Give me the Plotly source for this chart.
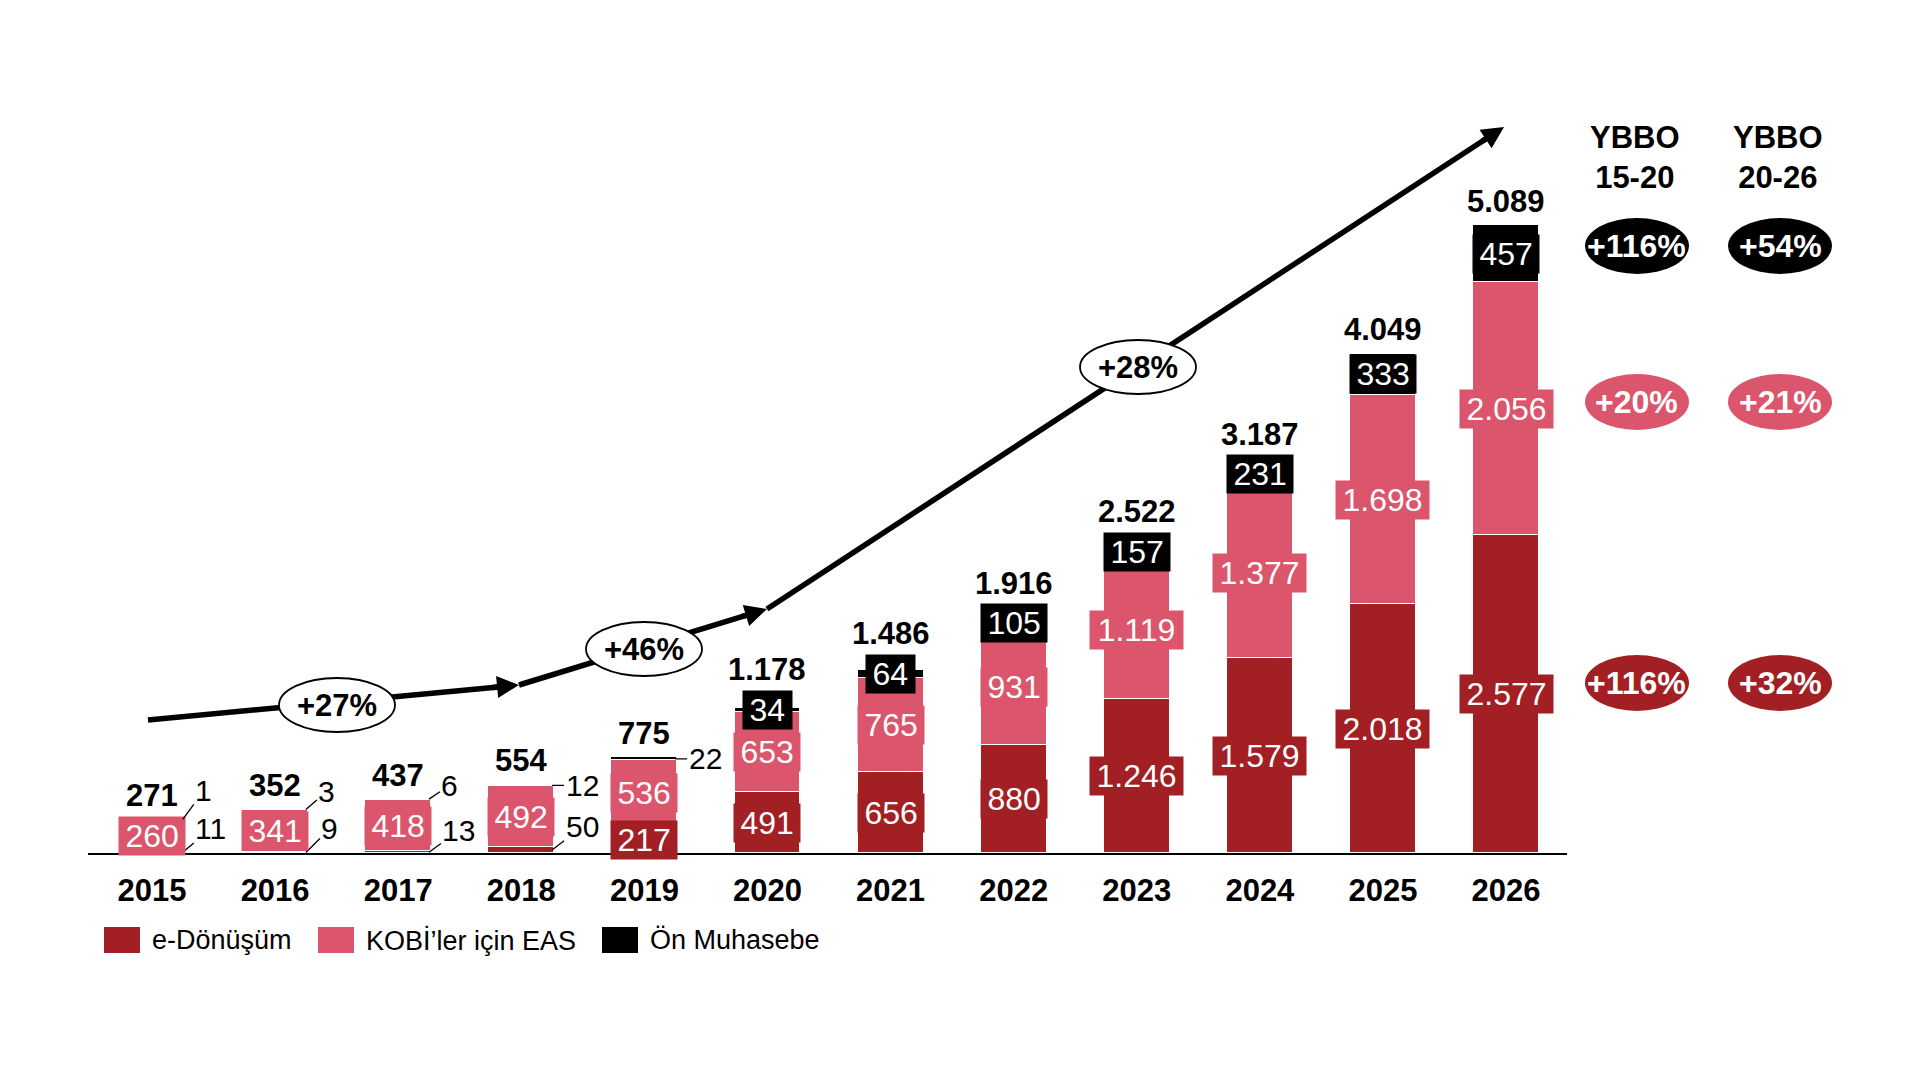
import plotly.graph_objects as go

# ---------------- data ----------------
years = ["2015", "2016", "2017", "2018", "2019", "2020",
         "2021", "2022", "2023", "2024", "2025", "2026"]
e_donusum = [11, 9, 13, 50, 217, 491, 656, 880, 1246, 1579, 2018, 2577]
kobi_eas = [260, 341, 418, 492, 536, 653, 765, 931, 1119, 1377, 1698, 2056]
on_muhasebe = [1, 3, 6, 12, 22, 34, 64, 105, 157, 231, 333, 457]
totals = [271, 352, 437, 554, 775, 1178, 1486, 1916, 2522, 3187, 4049, 5089]
series_names = ["e-Dönüşüm", "KOBİ’ler için EAS", "Ön Muhasebe"]
period_growth = ["+27%", "+46%", "+28%"]
cagr_headers = ["YBBO<br>15-20", "YBBO<br>20-26"]
cagr_on = ["+116%", "+54%"]
cagr_kobi = ["+20%", "+21%"]
cagr_edon = ["+116%", "+32%"]

# ---------------- style ----------------
DARK = "#A21F23"
PINK = "#DB556C"
BLACK = "#000000"
FONT = "Arial, 'Liberation Sans', sans-serif"

W, H = 1920, 1080
L, R, T, B = 88, 353, 60, 227
PW, PH = W - L - R, H - T - B
X_RANGE = [-0.52, 11.495]
PX_PER_UNIT = 0.1233
Y_MAX = PH / PX_PER_UNIT
BAR_W = 0.536
BOX_H = 38
LBL = 32


def pxx(px):
    return (px - L) / PW


def pxy(py):
    return (H - B - py) / PH


def fmt(v):
    return f"{v:,}".replace(",", ".")


def box_w(s, fs=LBL):
    d = sum(c.isdigit() for c in s)
    p = s.count(".")
    return d * 0.556 * fs + p * 0.278 * fs + 9


def paper_text(px, py, text, size, color, xanchor="center", bold=False):
    return dict(x=pxx(px), y=pxy(py), xref="paper", yref="paper",
                text=f"<b>{text}</b>" if bold else text, showarrow=False,
                xanchor=xanchor, yanchor="middle",
                font=dict(size=size, color=color, family=FONT))


x = list(range(len(years)))
fig = go.Figure()
for vals, col, name in [(e_donusum, DARK, series_names[0]),
                        (kobi_eas, PINK, series_names[1]),
                        (on_muhasebe, BLACK, series_names[2])]:
    fig.add_trace(go.Bar(x=x, y=vals, width=BAR_W, name=name,
                         marker=dict(color=col, line=dict(color="white", width=1.5)),
                         showlegend=False, hoverinfo="skip"))

ann = []
shapes = []

# outside label offsets (px) for small segments
OUT_DARK = {0: (28, -24), 1: (24, -24), 2: (30, -22), 3: (30, -23)}
OUT_BLACK = {0: (21, -29), 1: (21, -18), 2: (21, -14), 3: (30, 0), 4: (30, 0)}

for i in x:
    d, p, b = e_donusum[i], kobi_eas[i], on_muhasebe[i]
    top = d + p + b
    # dark segment
    if i in OUT_DARK:
        ax_, ay_ = OUT_DARK[i]
        ann.append(dict(x=i + 0.25, y=d / 2, xref="x", yref="y", text=fmt(d),
                        showarrow=True, arrowhead=0, arrowwidth=1.3, arrowcolor="black",
                        ax=ax_, ay=ay_, font=dict(size=30, color="black", family=FONT)))
    else:
        s = fmt(d)
        ann.append(dict(x=i, y=d / 2, xref="x", yref="y", text=s, showarrow=False,
                        font=dict(size=LBL, color="white", family=FONT),
                        bgcolor=DARK, width=box_w(s), height=BOX_H - 4, borderpad=2))
    # pink segment
    s = fmt(p)
    ann.append(dict(x=i, y=d + p / 2, xref="x", yref="y", text=s, showarrow=False,
                    font=dict(size=LBL, color="white", family=FONT),
                    bgcolor=PINK, width=box_w(s), height=BOX_H - 4, borderpad=2))
    # black segment
    extra = 0
    if i in OUT_BLACK:
        ax_, ay_ = OUT_BLACK[i]
        ann.append(dict(x=i + 0.25, y=top - (b / 2 if ay_ == 0 else 0), xref="x", yref="y",
                        text=fmt(b), showarrow=True, arrowhead=0, arrowwidth=1.3,
                        arrowcolor="black", ax=ax_, ay=ay_,
                        font=dict(size=30, color="black", family=FONT)))
    else:
        s = fmt(b)
        seg_px = b * PX_PER_UNIT
        extra = max(0, (BOX_H - seg_px) / 2)
        ann.append(dict(x=i, y=d + p + b / 2, xref="x", yref="y", text=s, showarrow=False,
                        font=dict(size=LBL, color="white", family=FONT),
                        bgcolor=BLACK, width=box_w(s), height=BOX_H - 4, borderpad=2))
    # total
    ann.append(dict(x=i, y=top, xref="x", yref="y", text=f"<b>{fmt(totals[i])}</b>",
                    showarrow=False, yanchor="middle", yshift=max(24, extra + 21),
                    font=dict(size=31, color="black", family=FONT)))

# ---------------- growth arrow ----------------
pts = [(148, 720), (519, 685), (767, 609), (1504, 127)]
for (tx, ty), (hx, hy) in zip(pts[:-1], pts[1:]):
    dx, dy = hx - tx, hy - ty
    n = (dx * dx + dy * dy) ** 0.5
    ux, uy = dx / n, dy / n
    ex, ey = hx - ux * 10, hy - uy * 10
    shapes.append(dict(type="line", xref="paper", yref="paper",
                       x0=pxx(tx), y0=pxy(ty), x1=pxx(ex), y1=pxy(ey),
                       line=dict(color="black", width=5.5), layer="above"))
    ann.append(dict(x=pxx(hx), y=pxy(hy), xref="paper", yref="paper", text="",
                    showarrow=True, arrowhead=2, arrowsize=0.8, arrowwidth=5.5,
                    arrowcolor="black", ax=-ux * 28, ay=-uy * 28))

ell = [(337, 705), (644, 649), (1138, 367)]
for (cx, cy), txt in zip(ell, period_growth):
    shapes.append(dict(type="circle", xref="paper", yref="paper",
                       x0=pxx(cx - 58), x1=pxx(cx + 58), y0=pxy(cy + 27), y1=pxy(cy - 27),
                       fillcolor="white", line=dict(color="black", width=1.8), layer="above"))
    ann.append(paper_text(cx, cy, txt, 31, "black", bold=True))

# ---------------- CAGR column ----------------
col_x = [1637, 1780]
for cx, hdr in zip(col_x, cagr_headers):
    ann.append(paper_text(cx - 2, 157, hdr, 31, "black", bold=True))
for vals, col, cy in [(cagr_on, BLACK, 246), (cagr_kobi, PINK, 402), (cagr_edon, DARK, 683)]:
    for cx, v in zip(col_x, vals):
        shapes.append(dict(type="circle", xref="paper", yref="paper",
                           x0=pxx(cx - 52), x1=pxx(cx + 52), y0=pxy(cy + 28), y1=pxy(cy - 28),
                           fillcolor=col, line=dict(width=0), layer="above"))
        ann.append(paper_text(cx, cy, v, 32, "white", bold=True))

# ---------------- legend ----------------
leg = [(104, DARK), (318, PINK), (602, BLACK)]
for (lx, col), name in zip(leg, series_names):
    shapes.append(dict(type="rect", xref="paper", yref="paper",
                       x0=pxx(lx), x1=pxx(lx + 36), y0=pxy(953), y1=pxy(927),
                       fillcolor=col, line=dict(width=0)))
    ann.append(paper_text(lx + 46, 940, name, 27, "black", xanchor="left"))

fig.update_layout(
    width=W, height=H, barmode="stack", bargap=0,
    margin=dict(l=L, r=R, t=T, b=B, pad=0),
    paper_bgcolor="white", plot_bgcolor="white",
    font=dict(family=FONT, color="black"),
    xaxis=dict(range=X_RANGE, tickvals=x, ticktext=[f"<b>{y}</b>" for y in years],
               tickfont=dict(size=31, color="black", family=FONT), showgrid=False,
               zeroline=False, showline=True, linecolor="black", linewidth=2,
               ticks="", ticklabelstandoff=9, fixedrange=True),
    yaxis=dict(range=[0, Y_MAX], visible=False, showgrid=False, zeroline=False,
               fixedrange=True),
    annotations=ann, shapes=shapes, showlegend=False,
)

fig.write_html("out.html")
